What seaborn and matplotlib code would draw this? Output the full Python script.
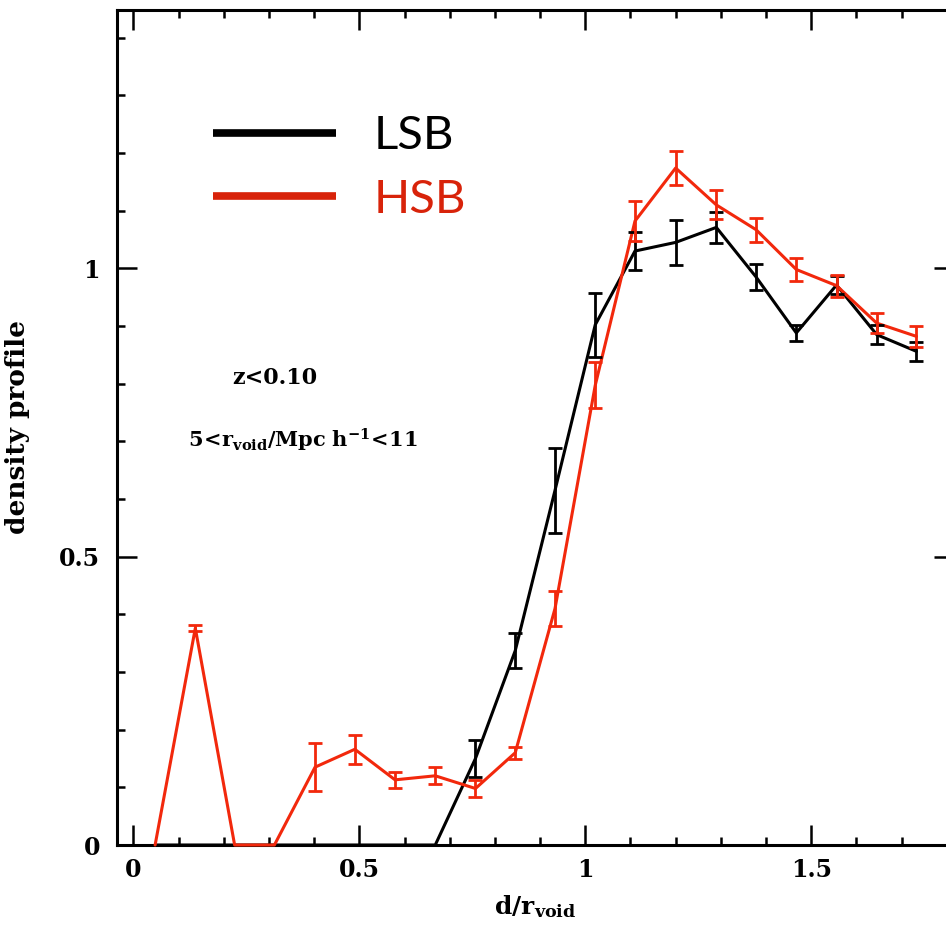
import numpy as np
import pandas as pd
import matplotlib
matplotlib.use("Agg")
import matplotlib.pyplot as plt
import seaborn as sns

# ---- data ----
d_rvoid = [0.048, 0.137, 0.224, 0.312, 0.402, 0.490, 0.579, 0.668, 0.757, 0.845,
           0.933, 1.022, 1.110, 1.200, 1.290, 1.378, 1.467, 1.556, 1.645, 1.733]
lsb_density = [0.0, 0.0, 0.0, 0.0, 0.0, 0.0, 0.0, 0.0, 0.150, 0.337,
               0.615, 0.902, 1.030, 1.045, 1.071, 0.985, 0.888, 0.971, 0.885, 0.856]
lsb_err = [0.0, 0.0, 0.0, 0.0, 0.0, 0.0, 0.0, 0.0, 0.032, 0.030,
           0.074, 0.055, 0.033, 0.039, 0.027, 0.022, 0.014, 0.015, 0.016, 0.016]
hsb_density = [0.0, 0.376, 0.0, 0.0, 0.135, 0.166, 0.113, 0.120, 0.098, 0.160,
               0.410, 0.797, 1.082, 1.174, 1.110, 1.067, 0.998, 0.970, 0.905, 0.882]
hsb_err = [0.0, 0.005, 0.0, 0.0, 0.042, 0.025, 0.014, 0.015, 0.014, 0.010,
           0.030, 0.040, 0.035, 0.030, 0.025, 0.021, 0.020, 0.019, 0.017, 0.018]
samples = ["LSB", "HSB"]
x_ticks = [0, 0.5, 1, 1.5]
x_ticklabels = ["0", "0.5", "1", "1.5"]
y_ticks = [0, 0.5, 1]
y_ticklabels = ["0", "0.5", "1"]

BLACK = "#000000"
RED = "#f2280c"
RED_TXT = "#d8230a"
colors = {"LSB": BLACK, "HSB": RED}

df = pd.concat([
    pd.DataFrame({"d": d_rvoid, "rho": lsb_density, "err": lsb_err, "sample": "LSB"}),
    pd.DataFrame({"d": d_rvoid, "rho": hsb_density, "err": hsb_err, "sample": "HSB"}),
], ignore_index=True)

sns.set_style("ticks")
plt.rcParams["mathtext.fontset"] = "dejavuserif"
plt.rcParams["font.family"] = ["DejaVu Serif"]
plt.rcParams["text.color"] = "black"
plt.rcParams["axes.labelcolor"] = "black"
plt.rcParams["axes.edgecolor"] = "black"
plt.rcParams["xtick.color"] = "black"
plt.rcParams["ytick.color"] = "black"

fig = plt.figure(figsize=(9.46, 9.30), dpi=100)
W, H = 946, 930
left_px, right_px, top_px, bot_px = 116.7, 954.0, 10.0, 845.0
ax_w = right_px - left_px
ax = fig.add_axes([left_px / W, (H - bot_px) / H, ax_w / W, (bot_px - top_px) / H])

sns.lineplot(data=df, x="d", y="rho", hue="sample", hue_order=samples, palette=colors,
             linewidth=2.2, ax=ax, zorder=4, clip_on=False, sort=False, estimator=None)

for s in samples:
    sub = df[(df["sample"] == s) & (df["err"] > 0)]
    ax.errorbar(sub["d"], sub["rho"], yerr=sub["err"], fmt="none", ecolor=colors[s],
                elinewidth=2.0, capsize=5, capthick=2.0, zorder=4)

ax.set_xlim(-0.037, 1.816)
ax.set_ylim(0, 1.448)

ax.set_xticks(x_ticks)
ax.set_xticklabels(x_ticklabels)
ax.set_yticks(y_ticks)
ax.set_yticklabels(y_ticklabels)
ax.set_xticks(np.arange(0, 1.85, 0.1), minor=True)
ax.set_yticks(np.arange(0, 1.45, 0.1), minor=True)
ax.tick_params(which="both", direction="in", top=True, right=True, width=1.8, color="black")
ax.tick_params(which="major", length=14.5)
ax.tick_params(which="minor", length=6)
ax.tick_params(axis="x", which="major", pad=9)
ax.tick_params(axis="y", which="major", pad=12)
for lab in ax.get_xticklabels() + ax.get_yticklabels():
    lab.set_fontfamily("DejaVu Serif")
    lab.set_fontweight("bold")
    lab.set_fontsize(17)
    lab.set_color("black")
for sp in ax.spines.values():
    sp.set_linewidth(2.2)
    sp.set_color("black")
    sp.set_visible(True)

ax.set_xlabel(r"$\mathbf{d/r_{void}}$", fontsize=18, labelpad=8)
ax.set_ylabel("density profile", fontsize=19, fontweight="bold")
ax.yaxis.set_label_coords(-(left_px - 30) / ax_w, 0.5)

ax.text(0.189, 0.559, "z<0.10", transform=ax.transAxes, ha="center", va="center",
        fontsize=16, fontweight="bold")
ax.text(0.222, 0.485, r"$\mathbf{5\!<\!r_{void}/Mpc\ h^{-1}\!<\!11}$", transform=ax.transAxes,
        ha="center", va="center", fontsize=15)

leg = ax.legend(loc="center left", bbox_to_anchor=(213 / W, 1 - 168 / H),
                bbox_transform=fig.transFigure, frameon=False, borderpad=0, borderaxespad=0,
                handlelength=2.6, handletextpad=0.8, labelspacing=0.45,
                prop={"family": "Lato", "size": 34})
for line, txt, s in zip(leg.get_lines(), leg.get_texts(), samples):
    line.set_linewidth(5.5)
    line.set_solid_capstyle("butt")
    line.set_color(BLACK if s == "LSB" else RED_TXT)
    txt.set_color(BLACK if s == "LSB" else RED_TXT)

fig.savefig("out.png", dpi=100)
